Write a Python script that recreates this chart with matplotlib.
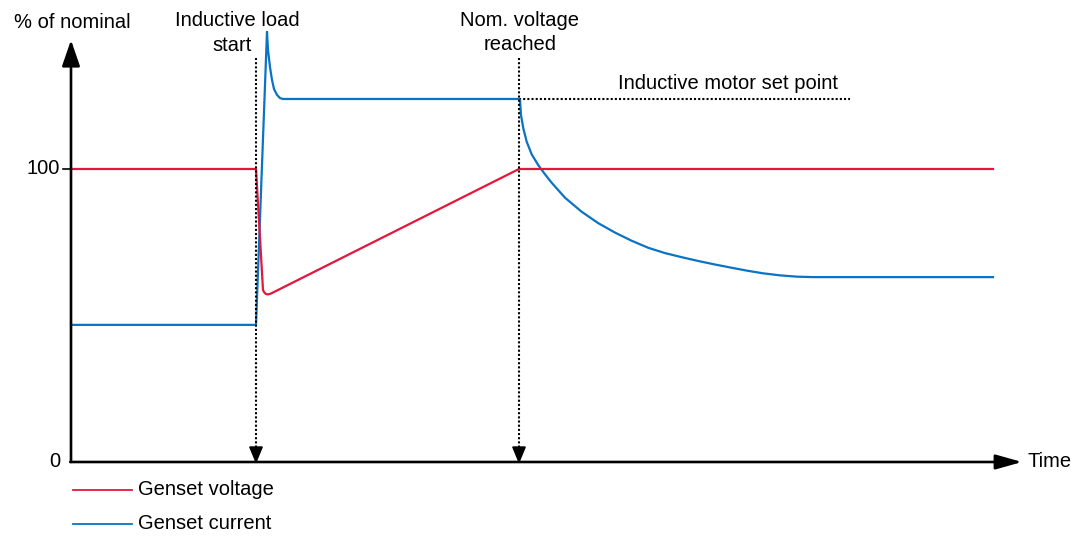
import matplotlib
matplotlib.use("Agg")
import matplotlib.pyplot as plt

plt.rcParams['font.family'] = ['Liberation Sans', 'DejaVu Sans']

# ---- data (time in arbitrary units, values in % of nominal) ----
t_load_start = 18.5
t_nom_voltage = 44.8
t_end = 92.2
set_point = 123.9

voltage_t = [0.0, 18.5, 19.2, 19.3, 19.5, 19.7, 20.0, 44.8, 92.2]
voltage_v = [100.0, 100.0, 58.7, 58.0, 57.3, 57.2, 57.5, 100.0, 100.0]

current_t = [0.0, 18.5, 19.6, 19.7, 19.9, 20.1, 20.3, 20.6, 20.9, 21.2,
             44.8, 44.9, 45.0, 45.23, 45.57, 46.07, 46.73, 47.33, 48.07, 49.4,
             51.07, 52.73, 54.4, 56.07, 57.73, 59.4, 61.07, 62.73, 64.4, 65.9,
             67.6, 69.2, 70.9, 72.6, 74.2, 92.2]
current_v = [46.8, 46.8, 146.8, 140.6, 134.8, 130.4, 127.3, 125.3, 124.2, 123.9,
             123.9, 123.5, 118.4, 113.9, 109.3, 105.0, 101.3, 98.5, 95.3, 90.2,
             85.4, 81.5, 78.3, 75.5, 73.1, 71.3, 69.9, 68.6, 67.4, 66.4,
             65.3, 64.4, 63.7, 63.25, 63.1, 63.1]

y_ticks = [0, 100]
y_tick_labels = ["0", "100"]

red = '#E3173E'
blue = '#0B73C3'

W, H = 1078, 536
fig = plt.figure(figsize=(W / 100, H / 100), dpi=100)
ax = fig.add_axes([0, 0, 1, 1])
ax.set_xlim(-7.1, 100.7)
ax.set_ylim(-25.26, 157.68)
ax.axis('off')

def px(x):  # pixel x -> data (layout helper)
    return (x - 71) / 10.0

def py(y):  # pixel y -> data (layout helper)
    return (462 - y) / 2.93

# curves
ax.plot(current_t, current_v, color=blue, lw=1.6, solid_joinstyle='round', zorder=3)
ax.plot(voltage_t, voltage_v, color=red, lw=1.6, solid_joinstyle='round', zorder=4)

# axes with arrows
ax.annotate('', xy=(0, py(40)), xytext=(0, 0),
            arrowprops=dict(arrowstyle='-|>,head_length=1.6,head_width=0.55',
                            lw=1.9, color='black', shrinkA=0, shrinkB=0), zorder=5)
ax.annotate('', xy=(px(1022), 0), xytext=(-0.08, 0),
            arrowprops=dict(arrowstyle='-|>,head_length=1.6,head_width=0.45',
                            lw=1.9, color='black', shrinkA=0, shrinkB=0), zorder=5)

# y ticks
for yv, lab in zip(y_ticks, y_tick_labels):
    if yv != 0:
        ax.plot([px(63), 0], [yv, yv], color='black', lw=1.2, zorder=5)
    ax.text(px(60), yv, lab, ha='right', va='center', fontsize=14.5)

# event markers (dotted vertical lines with arrowheads)
for te in [t_load_start, t_nom_voltage]:
    ax.plot([te, te], [py(58), py(449)], color='black', lw=1.5, ls=(0, (1, 1)), zorder=6)
    ax.fill([te - 0.62, te + 0.62, te], [py(447), py(447), 0], color='black', zorder=6)

# set point dotted line
ax.plot([t_nom_voltage, px(850)], [set_point, set_point], color='black', lw=1.5,
        ls=(0, (1, 1)), zorder=2)

# texts
fs = 14.5
ax.text(px(72), py(22), '% of nominal', ha='center', va='center', fontsize=fs)
ax.text(px(237), py(20), 'Inductive load', ha='center', va='center', fontsize=fs)
ax.text(px(232), py(45), 'start', ha='center', va='center', fontsize=fs)
ax.text(px(519), py(20), 'Nom. voltage', ha='center', va='center', fontsize=fs)
ax.text(px(520), py(44), 'reached', ha='center', va='center', fontsize=fs)
ax.text(px(618), py(83), 'Inductive motor set point', ha='left', va='center', fontsize=fs)
ax.text(px(1027), 0, 'Time', ha='left', va='center', fontsize=fs)

# legend
ax.plot([px(73), px(132)], [py(490), py(490)], color=red, lw=1.3)
ax.text(px(138), py(490), 'Genset voltage', ha='left', va='center', fontsize=fs)
ax.plot([px(73), px(132)], [py(524), py(524)], color=blue, lw=1.3)
ax.text(px(138), py(524), 'Genset current', ha='left', va='center', fontsize=fs)

fig.savefig('out.png', dpi=100)
